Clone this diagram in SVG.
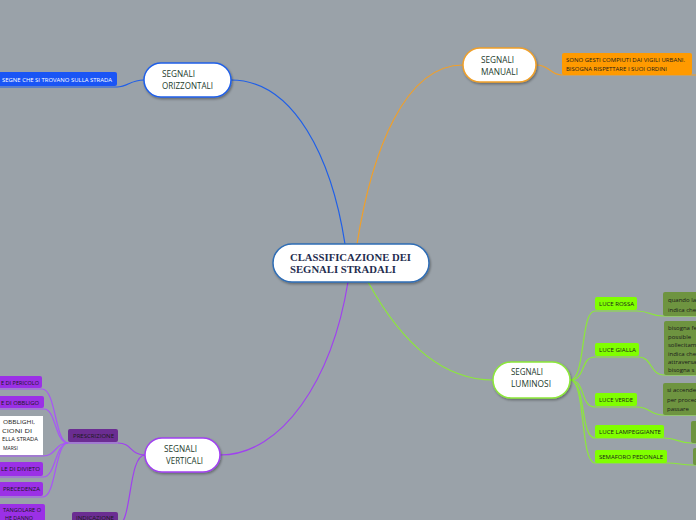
<svg xmlns="http://www.w3.org/2000/svg" width="696" height="520" viewBox="0 0 696 520">
<defs>
<filter id="sh" x="-10%" y="-10%" width="130%" height="140%"><feDropShadow dx="1" dy="1.5" stdDeviation="1" flood-color="#000" flood-opacity="0.35"/></filter>
</defs>
<style>
.node{fill:#fff;stroke-width:1.5;filter:url(#sh)}
.nt{font-family:"Open Sans","Liberation Sans",sans-serif;font-size:8.5px;fill:#1c3b2c}
.lt{font-family:"Open Sans","Liberation Sans",sans-serif;font-size:5.5px;fill:#1a1a1a}
.dt{font-family:"Open Sans","Liberation Sans",sans-serif;font-size:6px;fill:#1a1a1a}
.c{fill:none;stroke-width:1.2}
.blue{stroke:#1f5fe8}.orange{stroke:#f0a02a}.purple{stroke:#a040f0}.green{stroke:#8ce83a}.lpurple{stroke:#a855f7}
</style>
<rect width="696" height="520" fill="#9aa2a9"/>

<g id="connectors">
  <path class="c blue" d="M345,244 C332,160 295,80 231,80"/>
  <path class="c blue" d="M144,80 C130,80 128,87 117,87"/>
  <path class="c blue" d="M0,87 H117" stroke-width="1.5"/>
  <path class="c orange" d="M357,244 C372,150 405,65 463,65"/>
  <path class="c orange" d="M536,65 C550,65 550,75 562,75 H696"/>
  <path class="c purple" d="M348,282 C332,380 282,455 220,455"/>
  <path class="c purple" d="M145,455 C130,455 132,443 118,443"/>
  <path class="c purple" d="M145,455 C128,455 132,525 118,525"/>
  <path class="c lpurple" d="M68,443 H118"/>
  <path class="c lpurple" d="M0,389 H42 C56,389 55,443 68,443"/>
  <path class="c lpurple" d="M0,409 H44 C56,409 55,443 68,443"/>
  <path class="c lpurple" d="M0,456 H43 C56,456 55,443 68,443"/>
  <path class="c lpurple" d="M0,477 H43 C56,477 55,443 68,443"/>
  <path class="c lpurple" d="M0,497 H43 C56,497 55,443 68,443"/>
  <path class="c green" d="M368,282 C400,340 440,380 493,380"/>
  <path class="c green" d="M570,380 C586,380 580,311 595,311 H637 C650,311 650,316 663,316 H696"/>
  <path class="c green" d="M570,380 C586,380 580,357 595,357 H639 C652,357 650,375 664,375 H696"/>
  <path class="c green" d="M570,380 C586,380 580,407 595,407 H637 C650,407 650,415 663,415 H696"/>
  <path class="c green" d="M570,380 C586,380 580,438 595,438 H664 C678,438 678,443 691,443 H696"/>
  <path class="c green" d="M570,380 C586,380 580,463 595,463 H667 C680,463 680,465 693,465 H696"/>
</g>

<g id="center">
  <rect class="node" x="273" y="244" width="156" height="38" rx="19" stroke="#2f6db5"/>
  <text x="290" y="261" font-family="'Liberation Serif',serif" font-weight="bold" font-size="10.5" fill="#1f2d4f" textLength="121" lengthAdjust="spacingAndGlyphs">CLASSIFICAZIONE DEI</text>
  <text x="290" y="273" font-family="'Liberation Serif',serif" font-weight="bold" font-size="10.5" fill="#1f2d4f" textLength="106" lengthAdjust="spacingAndGlyphs">SEGNALI STRADALI</text>
</g>

<g id="orizzontali">
  <rect class="node" x="144" y="63" width="87" height="34" rx="17" stroke="#1f5fe8"/>
  <text class="nt" x="162" y="77" textLength="33" lengthAdjust="spacingAndGlyphs">SEGNALI</text>
  <text class="nt" x="162" y="89" textLength="51" lengthAdjust="spacingAndGlyphs">ORIZZONTALI</text>
</g>
<g id="orizzontali-desc">
  <rect x="-4" y="72" width="121" height="14" rx="2" fill="#1a55f5"/>
  <text class="lt" x="2" y="81.5" style="fill:#fff" textLength="110" lengthAdjust="spacingAndGlyphs">SEGNE CHE SI TROVANO SULLA STRADA</text>
</g>

<g id="manuali">
  <rect class="node" x="463" y="48" width="73" height="34" rx="17" stroke="#f0a02a"/>
  <text class="nt" x="481" y="63" textLength="33" lengthAdjust="spacingAndGlyphs">SEGNALI</text>
  <text class="nt" x="481" y="75" textLength="37" lengthAdjust="spacingAndGlyphs">MANUALI</text>
</g>
<g id="manuali-desc">
  <rect x="562" y="53" width="130" height="22" rx="2" fill="#ff9a00"/>
  <text class="lt" x="566" y="62" textLength="119" lengthAdjust="spacingAndGlyphs">SONO GESTI COMPIUTI DAI VIGILI URBANI.</text>
  <text class="lt" x="566" y="71" textLength="101" lengthAdjust="spacingAndGlyphs">BISOGNA RISPETTARE I SUOI ORDINI</text>
</g>

<g id="verticali">
  <rect class="node" x="145" y="438" width="75" height="34" rx="17" stroke="#a040f0"/>
  <text class="nt" x="164" y="452" textLength="33" lengthAdjust="spacingAndGlyphs">SEGNALI</text>
  <text class="nt" x="166" y="464" textLength="37" lengthAdjust="spacingAndGlyphs">VERTICALI</text>
</g>
<g id="prescrizione">
  <rect x="68" y="429" width="50" height="13" rx="2" fill="#6b2d92"/>
  <text class="lt" x="73" y="438" textLength="41" lengthAdjust="spacingAndGlyphs">PRESCRIZIONE</text>
</g>
<g id="indicazione">
  <rect x="72" y="512" width="46" height="13" rx="2" fill="#6b2d92"/>
  <text class="lt" x="76" y="520" textLength="38" lengthAdjust="spacingAndGlyphs">INDICAZIONE</text>
</g>
<g id="pericolo">
  <rect x="-4" y="376" width="46" height="12" rx="2" fill="#9b30e6"/>
  <text class="lt" x="1" y="384.5" textLength="38" lengthAdjust="spacingAndGlyphs">E DI PERICOLO</text>
</g>
<g id="obbligo">
  <rect x="-4" y="396" width="48" height="12" rx="2" fill="#9b30e6"/>
  <text class="lt" x="1" y="404.5" textLength="38" lengthAdjust="spacingAndGlyphs">E DI OBBLIGO</text>
</g>
<g id="obblighi">
  <rect x="-4" y="416" width="47" height="39" fill="#fff"/>
  <text class="lt" x="3" y="424" textLength="32" lengthAdjust="spacingAndGlyphs">OBBLIGHI,</text>
  <text class="lt" x="2" y="432.5" textLength="30" lengthAdjust="spacingAndGlyphs">CIONI DI</text>
  <text class="lt" x="2" y="441" textLength="36" lengthAdjust="spacingAndGlyphs">ELLA STRADA</text>
  <text class="lt" x="3" y="449.5" textLength="15" lengthAdjust="spacingAndGlyphs">MARSI</text>
</g>
<g id="divieto">
  <rect x="-4" y="462" width="47" height="14" rx="2" fill="#9b30e6"/>
  <text class="lt" x="1" y="471" textLength="39" lengthAdjust="spacingAndGlyphs">LE DI DIVIETO</text>
</g>
<g id="precedenza">
  <rect x="-4" y="482" width="47" height="14" rx="2" fill="#9b30e6"/>
  <text class="lt" x="3" y="490.5" textLength="37" lengthAdjust="spacingAndGlyphs">PRECEDENZA</text>
</g>
<g id="rettangolare">
  <rect x="-4" y="504" width="49" height="20" rx="2" fill="#9b30e6"/>
  <text class="lt" x="3" y="512" textLength="38" lengthAdjust="spacingAndGlyphs">TANGOLARE O</text>
  <text class="lt" x="5" y="519.5" textLength="28" lengthAdjust="spacingAndGlyphs">HE DANNO</text>
</g>

<g id="luminosi">
  <rect class="node" x="493" y="362" width="77" height="36" rx="18" stroke="#8ce83a"/>
  <text class="nt" x="511" y="375" textLength="32" lengthAdjust="spacingAndGlyphs">SEGNALI</text>
  <text class="nt" x="511" y="387" textLength="40" lengthAdjust="spacingAndGlyphs">LUMINOSI</text>
</g>
<g id="rossa">
  <rect x="595" y="297" width="42" height="13" rx="2" fill="#80ff00"/>
  <text class="lt" x="599" y="306" textLength="35" lengthAdjust="spacingAndGlyphs">LUCE ROSSA</text>
</g>
<g id="gialla">
  <rect x="595" y="343" width="44" height="13" rx="2" fill="#80ff00"/>
  <text class="lt" x="599" y="352" textLength="37" lengthAdjust="spacingAndGlyphs">LUCE GIALLA</text>
</g>
<g id="verde">
  <rect x="595" y="393" width="42" height="13" rx="2" fill="#80ff00"/>
  <text class="lt" x="599" y="402" textLength="34" lengthAdjust="spacingAndGlyphs">LUCE VERDE</text>
</g>
<g id="lampeggiante">
  <rect x="595" y="425" width="69" height="13" rx="2" fill="#80ff00"/>
  <text class="lt" x="599" y="434" textLength="62" lengthAdjust="spacingAndGlyphs">LUCE LAMPEGGIANTE</text>
</g>
<g id="pedonale">
  <rect x="595" y="450" width="72" height="13" rx="2" fill="#80ff00"/>
  <text class="lt" x="599" y="459" textLength="64" lengthAdjust="spacingAndGlyphs">SEMAFORO PEDONALE</text>
</g>
<g id="rossa-desc">
  <rect x="663" y="292" width="40" height="24" rx="2" fill="#6e9440"/>
  <text class="dt" x="668" y="302">quando la</text>
  <text class="dt" x="668" y="312">indica che</text>
</g>
<g id="gialla-desc">
  <rect x="664" y="321" width="40" height="54" rx="2" fill="#6e9440"/>
  <text class="dt" x="668" y="330">bisogna fe</text>
  <text class="dt" x="668" y="338.5">possible</text>
  <text class="dt" x="668" y="347">sollecitam</text>
  <text class="dt" x="668" y="355.5">indica che</text>
  <text class="dt" x="668" y="364">attraversa</text>
  <text class="dt" x="668" y="372">bisogna s</text>
</g>
<g id="verde-desc">
  <rect x="663" y="383" width="40" height="32" rx="2" fill="#6e9440"/>
  <text class="dt" x="667" y="392">si accender</text>
  <text class="dt" x="667" y="401.5">per proced</text>
  <text class="dt" x="667" y="411">passare</text>
</g>
<g id="lampeggiante-desc">
  <rect x="691" y="421" width="10" height="22" rx="2" fill="#6e9440"/>
</g>
<g id="pedonale-desc">
  <rect x="693" y="448" width="10" height="17" rx="2" fill="#6e9440"/>
</g>
</svg>
